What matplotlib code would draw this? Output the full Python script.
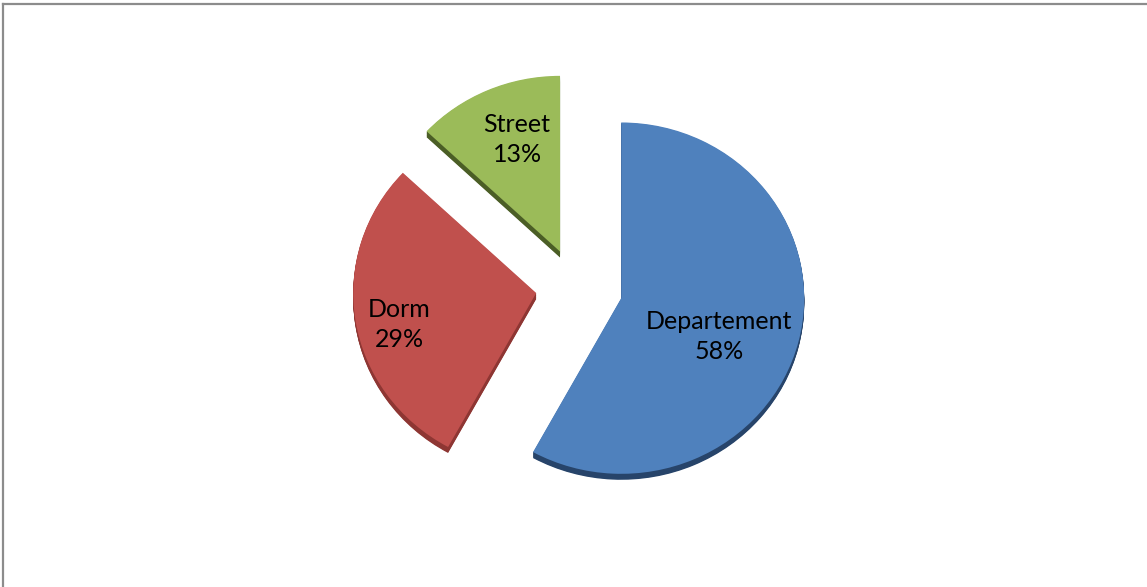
import matplotlib
matplotlib.use("Agg")
import matplotlib.pyplot as plt
from matplotlib.lines import Line2D
import numpy as np

# Data
categories = ["Departement", "Dorm", "Street"]
shares = [58, 29, 13]

# Styling
face_colors = ["#4F81BD", "#C0504D", "#9BBB59"]
side_colors = ["#27446A", "#8E3633", "#4B5E26"]
explode = [0.255, 0.22, 0.22]
label_pos = [(0.781, -0.280), (-0.967, -0.212), (-0.322, 0.841)]

W, H = 1147, 587
R_PX = 183.0          # pie radius in pixels (horizontal)
SQUASH = 0.96         # vertical tilt of the pie
CX, CY = 576.0, 287.0 # pie centre in pixels from top-left
DEPTH = 0.034         # side wall thickness (data units)

fig = plt.figure(figsize=(W / 100, H / 100), dpi=100)
ax = fig.add_axes([0, 0, 1, 1])

# side walls: stacked darker copies shifted downward
for d in np.linspace(0.004, DEPTH, 9):
    ax.pie(shares, colors=side_colors, explode=explode, startangle=90,
           counterclock=False, center=(0, -d), radius=1.0,
           wedgeprops=dict(linewidth=0))

# top faces
wedges, _ = ax.pie(shares, colors=face_colors, explode=explode, startangle=90,
                   counterclock=False, center=(0, 0), radius=1.0,
                   wedgeprops=dict(linewidth=0))

# labels
total = sum(shares)
for name, val, (lx, ly) in zip(categories, shares, label_pos):
    ax.text(lx, ly, f"{name}\n{round(100 * val / total)}%", ha="center",
            va="center", fontsize=18, family=["Lato", "DejaVu Sans"],
            color="black", linespacing=1.35)

ax.set_aspect("auto")
yu = R_PX * SQUASH
ax.set_xlim(-CX / R_PX, (W - CX) / R_PX)
ax.set_ylim(-(H - CY) / yu, CY / yu)
ax.axis("off")

# chart-area border (top and left edges)
fig.add_artist(Line2D([3 / W, 1], [1 - 3.5 / H, 1 - 3.5 / H],
                      transform=fig.transFigure, color="#8C8C8C", lw=1.6))
fig.add_artist(Line2D([3 / W, 3 / W], [0, 1 - 3.5 / H],
                      transform=fig.transFigure, color="#8C8C8C", lw=1.6))

fig.savefig("out.png", dpi=100)
